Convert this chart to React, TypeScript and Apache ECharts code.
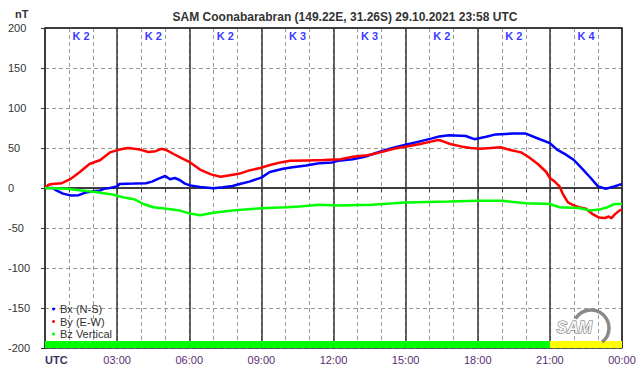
import React, { useEffect, useRef } from "react";
import * as echarts from "echarts";

const titleText = "SAM Coonabarabran (149.22E, 31.26S) 29.10.2021 23:58 UTC";
const seriesNames = ["Bx (N-S)", "By (E-W)", "Bz Vertical"];
const seriesColors = ["#0000ff", "#ff0000", "#00ff00"];
const kIndex = [2, 2, 2, 3, 3, 2, 2, 4];

const bxData: [number, number][] = [
  [0, 0], [0.33, 0], [0.47, -3], [0.75, -7], [1.1, -9.5], [1.4, -9], [1.65, -6], [2.0, -4],
  [2.3, -3], [2.45, -1], [2.7, 0], [3.0, 2], [3.1, 5], [3.7, 5.5], [4.2, 6], [4.45, 8],
  [4.7, 11.5], [5.0, 15], [5.2, 11], [5.4, 12.5], [5.6, 10], [5.82, 5.5], [6.03, 3.3],
  [6.45, 1.2], [7.0, -0.4], [7.4, 1], [7.8, 2.5], [8.1, 5], [8.5, 8], [9.0, 13], [9.35, 20],
  [9.9, 24], [10.3, 26], [10.86, 28], [11.4, 31], [11.95, 32], [12.2, 34], [12.8, 36],
  [13.3, 39], [13.9, 45], [14.45, 50], [15.0, 54], [15.55, 58], [16.1, 62], [16.4, 64.5],
  [16.8, 66], [17.5, 65], [17.86, 61], [18.35, 64], [18.75, 67], [19.45, 68], [20.0, 68],
  [20.45, 62.5], [21.0, 56], [21.3, 48], [21.65, 42], [22.0, 35], [22.35, 24], [22.7, 12.5],
  [23.0, 2], [23.33, -1], [23.68, 2], [24, 5],
];

const byData: [number, number][] = [
  [0, 0], [0.15, 4], [0.3, 5], [0.7, 6], [1.05, 11], [1.45, 20], [1.85, 30], [2.3, 35],
  [2.7, 44.5], [3.1, 48], [3.45, 50], [3.95, 48], [4.3, 45], [4.6, 46], [4.85, 49], [5.07, 47],
  [5.35, 42.5], [5.7, 37], [6.04, 32], [6.45, 23], [6.9, 17], [7.3, 14], [7.7, 16], [8.1, 18],
  [8.5, 22], [8.95, 25], [9.4, 29], [9.8, 32], [10.2, 34], [10.9, 34.5], [11.6, 35],
  [12.3, 36], [12.8, 39], [13.4, 41], [13.95, 44.5], [14.5, 49], [15.05, 52], [15.6, 55],
  [16.05, 58], [16.35, 60], [16.5, 59], [16.85, 55], [17.3, 52], [17.7, 50], [18.1, 49],
  [18.55, 50], [18.95, 51], [19.35, 47.5], [19.8, 44.5], [20.1, 39], [20.5, 30], [20.85, 20],
  [21.0, 12.5], [21.2, 8], [21.4, 2], [21.55, -8], [21.75, -18], [21.95, -21], [22.2, -24],
  [22.5, -26], [22.8, -33], [23.05, -37], [23.3, -37.5], [23.45, -35.5], [23.55, -38],
  [23.7, -33], [23.9, -28], [24, -27],
];

const bzData: [number, number][] = [
  [0, 0], [0.9, -1], [1.5, -3], [2.1, -5], [2.8, -8], [3.0, -9.6], [3.3, -12], [3.7, -14],
  [4.1, -20], [4.5, -24], [5.05, -26], [5.6, -28], [6.03, -32], [6.45, -34], [7.0, -31],
  [7.8, -28], [8.7, -26], [9.2, -25], [10.05, -24], [10.6, -23], [11.4, -21], [12.2, -22],
  [13.6, -21], [15, -18], [16.8, -17], [18, -16], [19, -16], [20, -19], [21, -20], [21.4, -24],
  [22.2, -25], [22.65, -28], [23.05, -27], [23.4, -24], [23.7, -20], [24, -20],
];

const FONT = "'Liberation Sans', Arial, sans-serif";
const kColor = (k: number) => (k >= 4 ? "#ffff00" : "#00ff00");

export default function App() {
  const ref = useRef<HTMLDivElement>(null);
  useEffect(() => {
    if (!ref.current) return;
    const chart = echarts.init(ref.current, null, { renderer: "svg" });
    const barAreas = kIndex.map((k, i) => [
      { xAxis: i * 3, yAxis: -200, itemStyle: { color: kColor(k) } },
      { xAxis: i * 3 + 3, yAxis: -191.25 },
    ]);
    const lineSeries = [bxData, byData, bzData].map((d, i) => ({
      name: seriesNames[i],
      type: "line",
      data: d,
      showSymbol: false,
      symbol: "circle",
      lineStyle: { color: seriesColors[i], width: 2.5 },
      itemStyle: { color: seriesColors[i] },
      z: 3,
    }));
    (lineSeries[0] as any).markArea = { silent: true, data: barAreas };
    chart.setOption({
      animation: false,
      textStyle: { fontFamily: FONT },
      title: {
        text: titleText,
        left: 340,
        top: 6,
        textAlign: "center",
        textStyle: { fontSize: 12, fontWeight: "bold", color: "#333", fontFamily: FONT },
      },
      legend: {
        data: seriesNames,
        orient: "vertical",
        left: 47,
        top: 298,
        icon: "circle",
        itemWidth: 3,
        itemHeight: 3,
        itemGap: 0.5,
        textStyle: { fontSize: 11, color: "#333", fontFamily: FONT, lineHeight: 12 },
      },
      grid: { left: 45, right: 20, top: 28, bottom: 28 },
      xAxis: [
        {
          type: "value",
          min: 0,
          max: 24,
          interval: 1,
          axisLine: { show: true, lineStyle: { color: "#333", width: 1.5 } },
          axisTick: { show: true, length: 4, lineStyle: { color: "#333" } },
          axisLabel: {
            margin: 6,
            fontSize: 11,
            color: "#5b2c6f",
            fontFamily: FONT,
            formatter: (v: number) =>
              v === 0 || v % 3 !== 0 ? "" : String(v % 24).padStart(2, "0") + ":00",
          },
          splitLine: { show: true, lineStyle: { color: "#999", type: [4, 3], width: 1 } },
        },
        {
          type: "value",
          position: "top",
          min: 0,
          max: 24,
          interval: 3,
          axisLine: { show: true, onZero: false, lineStyle: { color: "#333", width: 1.5 } },
          axisTick: { show: false },
          axisLabel: { show: false },
          splitLine: { show: true, lineStyle: { color: "#333", width: 1.5 } },
        },
      ],
      yAxis: [
        {
          type: "value",
          min: -200,
          max: 200,
          interval: 50,
          axisLine: { show: true, onZero: false, lineStyle: { color: "#333", width: 1.5 } },
          axisTick: { show: true, length: 4, lineStyle: { color: "#333" } },
          axisLabel: { margin: 37, align: "left", fontSize: 11, color: "#333", fontFamily: FONT },
          splitLine: { show: true, lineStyle: { color: "#999", type: [4, 3], width: 1 } },
        },
        {
          type: "value",
          position: "right",
          min: -200,
          max: 200,
          interval: 200,
          axisLine: { show: true, onZero: false, lineStyle: { color: "#333", width: 1.5 } },
          axisTick: { show: false },
          axisLabel: { show: false },
          splitLine: { show: true, lineStyle: { color: "#333", width: 1.5 } },
        },
      ],
      series: [
        ...lineSeries,
        {
          name: "K",
          type: "scatter",
          data: kIndex.map((k, i) => [1.5 + 3 * i, 190]),
          symbolSize: 1,
          itemStyle: { color: "rgba(0,0,0,0)" },
          silent: true,
          label: {
            show: true,
            position: "inside",
            formatter: (p: any) => "K " + kIndex[p.dataIndex],
            fontSize: 11,
            fontWeight: "bold",
            color: "#0000ff",
            fontFamily: FONT,
          },
          z: 4,
        },
      ],
      graphic: [
        {
          type: "text",
          left: 15,
          top: 8,
          style: { text: "nT", fontSize: 11, fontWeight: "bold", fill: "#333", fontFamily: FONT },
        },
        {
          type: "text",
          left: 45,
          top: 354,
          style: { text: "UTC", fontSize: 11, fontWeight: "bold", fill: "#3c3060", fontFamily: FONT },
        },
        {
          type: "arc",
          shape: { cx: 591, cy: 328, r: 18, startAngle: -2.6, endAngle: 0.9 },
          style: { stroke: "#8a8a8a", lineWidth: 3.5, fill: "none" },
          z: 5,
        },
        {
          type: "text",
          left: 556,
          top: 319,
          style: {
            text: "SAM",
            fontSize: 16,
            fontStyle: "italic",
            fontWeight: "bold",
            fill: "#f4f4f4",
            stroke: "#666",
            lineWidth: 1,
            fontFamily: FONT,
          },
          z: 6,
        },
      ],
    });
    return () => chart.dispose();
  }, []);
  return (
    <div
      ref={ref}
      style={{ position: "fixed", left: 0, top: 0, width: 642, height: 376, background: "#fff" }}
    />
  );
}
